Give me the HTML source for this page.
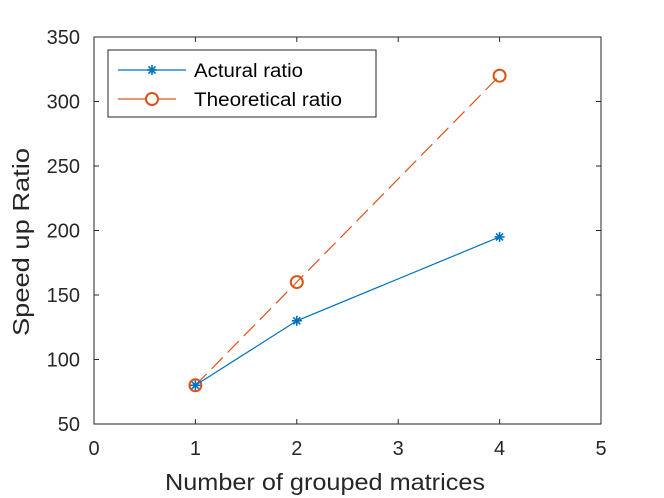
<!DOCTYPE html>
<html><head><meta charset="utf-8"><style>body{margin:0;background:#fff}svg{display:block;font-family:"Liberation Sans",sans-serif}</style></head>
<body>
<svg id="c" width="664" height="498"></svg>
<script>
const xValues=[1,2,4];
const actualValues=[80,130,195];
const theoreticalValues=[80,160,320];
const xTicks=[0,1,2,3,4,5];
const yTicks=[50,100,150,200,250,300,350];
const L=94,R=601,T=37,B=424;
const X=v=>L+(v-0)/(5-0)*(R-L);
const Y=v=>B-(v-50)/(350-50)*(B-T);
const svg=document.getElementById('c');
const NS='http://www.w3.org/2000/svg';
function mk(t,a,p){const e=document.createElementNS(NS,t);for(const k in a)e.setAttribute(k,a[k]);(p||svg).appendChild(e);return e;}
const box=mk('rect',{x:L,y:T,width:R-L,height:B-T,fill:'none',stroke:'#262626','stroke-width':1});


xTicks.forEach(v=>{
  mk('line',{x1:X(v),x2:X(v),y1:B,y2:B-5,stroke:'#262626'});
  mk('line',{x1:X(v),x2:X(v),y1:T,y2:T+5,stroke:'#262626'});
  const t=mk('text',{x:X(v),y:B+31,'text-anchor':'middle','font-size':20,fill:'#262626'});t.textContent=v;
  
  
});
yTicks.forEach(v=>{
  mk('line',{x1:L,x2:L+5,y1:Y(v),y2:Y(v),stroke:'#262626'});
  mk('line',{x1:R,x2:R-5,y1:Y(v),y2:Y(v),stroke:'#262626'});
  const t=mk('text',{x:L-14,y:Y(v)+7,'text-anchor':'end','font-size':20,fill:'#262626'});t.textContent=v;
  
  
});
const xt=mk('text',{x:325,y:490,'text-anchor':'middle','font-size':23,fill:'#262626',textLength:320,lengthAdjust:'spacingAndGlyphs'});xt.textContent='Number of grouped matrices';


const yt=mk('text',{x:0,y:0,'text-anchor':'middle','font-size':23,fill:'#262626',textLength:188,lengthAdjust:'spacingAndGlyphs',transform:'translate(29,242) rotate(-90)'});yt.textContent='Speed up Ratio';


function star(x,y,g){const s=5;[[s,0],[0,s],[s*0.7,s*0.7],[s*0.7,-s*0.7]].forEach(([a,b])=>mk('line',{x1:x-a,y1:y-b,x2:x+a,y2:y+b,stroke:'#0072bd','stroke-width':1.6},g));}
const tl=mk('polyline',{points:xValues.map((v,i)=>X(v)+','+Y(theoreticalValues[i])).join(' '),fill:'none',stroke:'#d95319','stroke-width':1.2,'stroke-dasharray':'16,7'});


xValues.forEach((v,i)=>{const c=mk('circle',{cx:X(v),cy:Y(theoreticalValues[i]),r:6,fill:'none',stroke:'#d95319','stroke-width':2});

});
const al=mk('polyline',{points:xValues.map((v,i)=>X(v)+','+Y(actualValues[i])).join(' '),fill:'none',stroke:'#0072bd','stroke-width':1.2});


xValues.forEach((v,i)=>{const g=mk('g',{});


star(X(v),Y(actualValues[i]),g);});
const lg=mk('g',{});


mk('rect',{x:108,y:50,width:268,height:67,fill:'#fff',stroke:'#262626'},lg);
mk('line',{x1:118,x2:186,y1:70,y2:70,stroke:'#0072bd','stroke-width':1.2},lg);
star(152,70,lg);
mk('line',{x1:118,x2:176,y1:99,y2:99,stroke:'#d95319','stroke-width':1.2},lg);
mk('circle',{cx:152,cy:99,r:6,fill:'#fff',stroke:'#d95319','stroke-width':2},lg);
const l1=mk('text',{x:194,y:77,'font-size':19,fill:'#000',textLength:109,lengthAdjust:'spacingAndGlyphs'},lg);l1.textContent='Actural ratio';


const l2=mk('text',{x:194,y:106,'font-size':19,fill:'#000',textLength:148,lengthAdjust:'spacingAndGlyphs'},lg);l2.textContent='Theoretical ratio';


</script>
</body></html>
